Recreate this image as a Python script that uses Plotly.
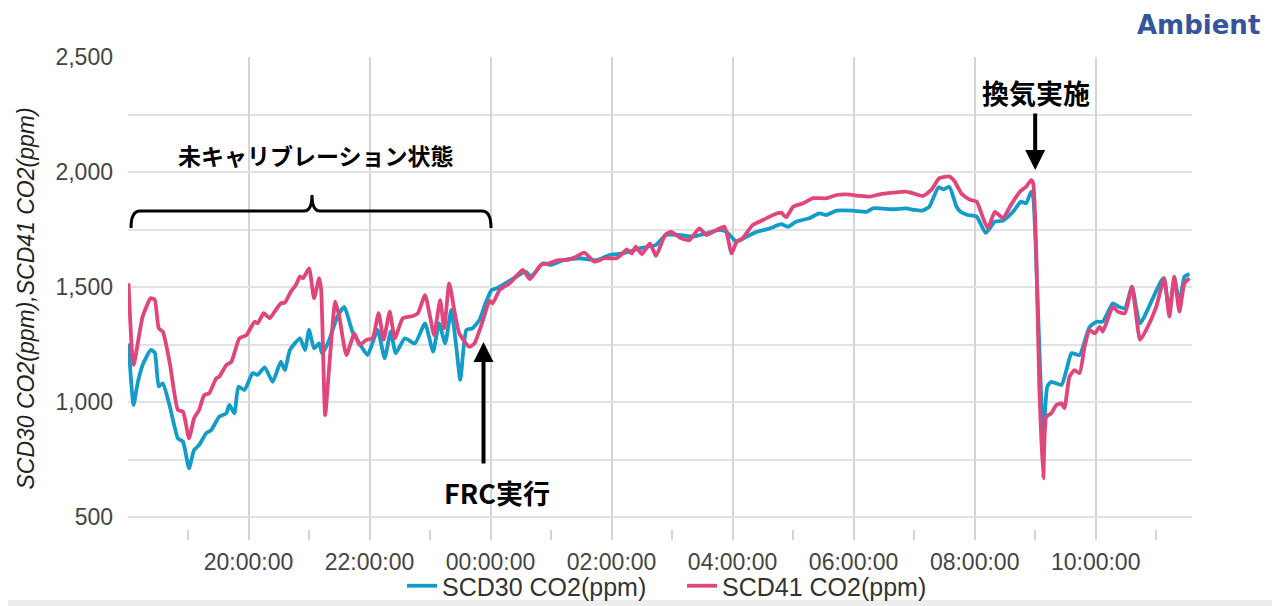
import plotly.graph_objects as go

# ---------------- data ----------------
scd30_times = ["18:01","18:06","18:10","18:15","18:23","18:27","18:31","18:35","18:42","18:50","18:55",
 "19:01","19:06","19:11","19:18","19:23","19:31","19:38","19:41","19:46","19:50","19:56",
 "20:04","20:09","20:16","20:24","20:32","20:36","20:41","20:51","20:56","21:00","21:05","21:10","21:13",
 "21:20","21:28","21:35","21:43","21:50","21:58","22:08","22:15","22:21","22:26","22:35","22:45","22:55",
 "23:03","23:09","23:15","23:21","23:26","23:30","23:36","23:42","23:49","23:55",
 "00:01","00:06","00:12","00:22","00:35","00:40","00:52","01:00","01:12","01:28","01:45","01:58",
 "02:11","02:28","02:44","02:54","03:07","03:21","03:34","03:47","03:54","04:04","04:14","04:24","04:37",
 "04:48","04:55","05:03","05:16","05:26","05:33","05:43","05:59","06:13","06:19","06:39","06:52","07:00",
 "07:08","07:15","07:24","07:29","07:35","07:42","07:46","07:53","08:02","08:11","08:20","08:28","08:38",
 "08:46","08:51","08:56","08:58","09:03","09:07","09:08","09:12","09:16","09:26","09:31","09:36","09:44","09:54",
 "10:01","10:07","10:17","10:23","10:29","10:36","10:44","11:07","11:13","11:18","11:23","11:28","11:33"]
scd30_values = [1255,987,1081,1161,1226,1215,1067,1081,980,842,828,
 712,791,813,864,878,936,951,987,951,1067,1052,
 1125,1118,1151,1088,1175,1139,1226,1277,1226,1313,1233,1255,1210,
 1270,1370,1414,1306,1255,1204,1313,1190,1306,1212,1277,1255,1342,
 1219,1342,1255,1400,1240,1096,1313,1320,1357,1429,
 1487,1494,1509,1535,1567,1545,1603,1596,1617,1625,1617,1639,
 1646,1668,1683,1726,1726,1719,1733,1748,1740,1697,1719,1740,1755,
 1773,1762,1784,1799,1820,1813,1832,1832,1827,1842,1838,1842,1835,
 1832,1849,1933,1925,1935,1849,1827,1813,1806,1735,1784,1788,1827,
 1871,1864,1915,1893,1371,900,835,1067,1088,1074,1139,1212,1204,1327,
 1349,1349,1429,1414,1407,1501,1342,1538,1400,1538,1430,1545,1557]

scd41_times = ["18:01","18:06","18:15","18:23","18:27","18:31","18:35","18:42","18:50","18:55",
 "19:01","19:06","19:11","19:16","19:21","19:28","19:31","19:38","19:43","19:51","19:58",
 "20:06","20:09","20:15","20:21","20:27","20:32","20:36","20:42","20:47","20:51","20:54",
 "21:00","21:05","21:10","21:12","21:16","21:20","21:26","21:30","21:37","21:45","21:50","21:57",
 "22:03","22:09","22:14","22:20","22:25","22:33","22:43","22:48","22:55",
 "23:00","23:04","23:10","23:14","23:19","23:24","23:29","23:39","23:44","23:52","23:59",
 "00:02","00:09","00:19","00:32","00:39","00:50","00:58","01:07","01:15","01:25","01:33","01:43","01:53",
 "02:05","02:11","02:15","02:20","02:24","02:30","02:38","02:44","02:53","02:59",
 "03:09","03:17","03:27","03:34","03:44","03:52","03:59","04:04","04:10","04:20","04:30","04:40","04:48","04:53",
 "05:00","05:10","05:20","05:33","05:43","05:53","06:06","06:16","06:26","06:39","06:52","06:59",
 "07:09","07:17","07:25","07:35","07:40","07:47","07:55","08:02","08:05","08:13","08:20","08:28","08:36",
 "08:45","08:51","08:56","08:58","09:01","09:04","09:08","09:11","09:16","09:21","09:26","09:29",
 "09:34","09:39","09:44","09:49","09:54","09:59","10:04","10:07","10:14","10:17","10:22","10:29",
 "10:36","10:44","10:50","11:00","11:08","11:13","11:18","11:23","11:28","11:33"]
scd41_values = [1516,1161,1371,1451,1445,1320,1306,1168,965,958,
 842,929,965,1030,1038,1103,1110,1161,1175,1277,1291,
 1349,1342,1386,1364,1400,1429,1432,1480,1509,1545,1538,
 1581,1451,1538,1490,943,1153,1436,1371,1204,1298,1248,1270,
 1277,1386,1270,1393,1277,1364,1374,1386,1465,
 1371,1291,1443,1320,1516,1400,1298,1240,1255,1349,1440,
 1429,1487,1516,1574,1534,1596,1603,1617,1617,1632,1649,1610,1625,
 1625,1646,1664,1646,1675,1643,1690,1635,1726,1740,
 1712,1704,1755,1726,1748,1762,1646,1697,1712,1770,1791,1813,1823,1803,
 1849,1864,1886,1886,1900,1903,1896,1893,1903,1910,1915,1907,
 1896,1922,1973,1980,1960,1905,1880,1871,1840,1755,1827,1799,1857,
 1915,1936,1965,1951,1661,1081,668,936,951,987,994,973,
 1110,1139,1125,1240,1313,1298,1327,1306,1386,1414,1393,1386,
 1501,1270,1313,1414,1538,1371,1545,1393,1516,1538]

y_tick_values = [500, 1000, 1500, 2000, 2500]
y_tick_labels = ["500", "1,000", "1,500", "2,000", "2,500"]

DAY1 = "2021-11-15"
DAY2 = "2021-11-16"


def to_dt(hm):
    h = int(hm.split(":")[0])
    return (DAY1 if h >= 18 else DAY2) + " " + hm


BLUE = "#139bc9"
PINK = "#e0457b"
FONT = "Liberation Sans, Arial, sans-serif"
JP = "Noto Sans CJK JP"

fig = go.Figure()
fig.add_trace(go.Scatter(x=[to_dt(t) for t in scd30_times], y=scd30_values, mode="lines",
                         name="SCD30 CO2(ppm)", line=dict(color=BLUE, width=3.8, shape="spline", smoothing=0.5)))
fig.add_trace(go.Scatter(x=[to_dt(t) for t in scd41_times], y=scd41_values, mode="lines",
                         name="SCD41 CO2(ppm)", line=dict(color=PINK, width=3.8, shape="spline", smoothing=0.5)))

# page body has an 8px margin -> figure drawn at (8, 8)
OFF = 8
W, H = 1280 - OFF, 606 - OFF
L, T = 128 - OFF, 57 - OFF
R = W - (1192 - OFF)
B = H - (540 - OFF)
pw, ph = W - L - R, H - T - B


def px(xp):  # page x -> paper fraction
    return (xp - OFF - L) / pw


def py(yp):  # page y -> paper fraction
    return (H - B - (yp - OFF)) / ph


fig.update_layout(
    width=W, height=H,
    margin=dict(l=L, r=R, t=T, b=B, autoexpand=False),
    plot_bgcolor="white", paper_bgcolor="white",
    font=dict(family=FONT, size=23, color="#444"),
    showlegend=True,
    legend=dict(orientation="h", x=px(682), xanchor="center", y=py(586), yanchor="middle",
                font=dict(size=25, color="#333"), bgcolor="rgba(0,0,0,0)",
                entrywidth=235, traceorder="normal"),
    xaxis=dict(
        type="date", automargin=False,
        range=[DAY1 + " 18:00:30", DAY2 + " 11:35:30"],
        tick0=DAY1 + " 20:00", dtick=7200000, tickformat="%H:%M:%S",
        showgrid=True, gridcolor="#d4d4d4", gridwidth=2,
        ticks="inside", ticklen=10, tickcolor="#d4d4d4", tickwidth=2,
        showline=False, zeroline=False, ticklabelstandoff=6,
        tickfont=dict(size=23, color="#444"),
        minor=dict(dtick=3600000, tick0=DAY1 + " 19:00", ticks="inside", ticklen=10,
                   tickcolor="#d4d4d4", tickwidth=2, showgrid=False),
    ),
    yaxis=dict(
        range=[400, 2500], automargin=False,
        tickvals=y_tick_values, ticktext=y_tick_labels,
        showgrid=True, gridcolor="#e2e2e2", gridwidth=2,
        zeroline=False, showline=False, ticks="",
        ticklabelstandoff=14,
        tickfont=dict(size=23, color="#444"),
        title=dict(text="<i>SCD30 CO2(ppm),SCD41 CO2(ppm)</i>", font=dict(size=23, color="#222"), standoff=14),
        minor=dict(dtick=250, tick0=500, showgrid=True, gridcolor="#e2e2e2", gridwidth=2),
    ),
)

# brace over the uncalibrated period
brace = (f"M {px(131)},{py(228)} Q {px(131)},{py(211)} {px(140)},{py(211)} "
         f"L {px(304)},{py(211)} Q {px(312)},{py(211)} {px(312)},{py(195)} "
         f"Q {px(312)},{py(211)} {px(320)},{py(211)} "
         f"L {px(482)},{py(211)} Q {px(491)},{py(211)} {px(491)},{py(228)}")
fig.add_shape(type="path", path=brace, xref="paper", yref="paper",
              line=dict(color="black", width=3))

# bottom grey strip
fig.add_shape(type="rect", xref="paper", yref="paper", x0=px(0), x1=px(1280), y0=py(606), y1=py(600),
              fillcolor="#ececec", line=dict(width=0), layer="below")

fig.add_annotation(text="<b>未キャリブレーション状態</b>", xref="paper", yref="paper",
                   x=px(316), y=py(155), xanchor="center", yanchor="middle", showarrow=False,
                   font=dict(family=JP, size=23, color="black"))

# FRC arrow
fig.add_annotation(x=to_dt("23:53"), y=1261, ax=0, ay=123, xref="x", yref="y", text="",
                   showarrow=True, arrowhead=2, arrowsize=1, arrowwidth=4, arrowcolor="black")
fig.add_annotation(text="<b>FRC実行</b>", xref="paper", yref="paper", x=px(497), y=py(492),
                   xanchor="center", yanchor="middle", showarrow=False,
                   font=dict(family=JP, size=27, color="black"))

# ventilation arrow
fig.add_annotation(x=to_dt("09:00"), y=2009, ax=0, ay=-58, xref="x", yref="y", text="",
                   showarrow=True, arrowhead=2, arrowsize=1, arrowwidth=4, arrowcolor="black")
fig.add_annotation(text="<b>換気実施</b>", xref="paper", yref="paper", x=px(1036), y=py(92),
                   xanchor="center", yanchor="middle", showarrow=False,
                   font=dict(family=JP, size=27, color="black"))

fig.add_annotation(text="<b>Ambient</b>", xref="paper", yref="paper", x=px(1262), y=py(OFF),
                   xanchor="right", yanchor="top", showarrow=False,
                   font=dict(family="DejaVu Sans", size=26, color="#34559b"))

fig.write_html("out.html")
